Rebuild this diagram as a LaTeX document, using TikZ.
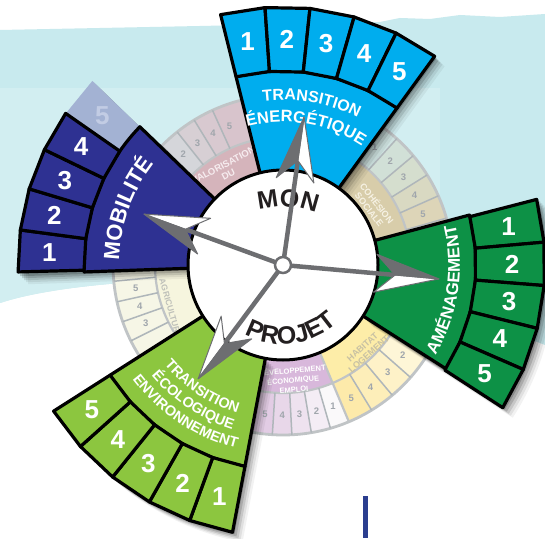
\documentclass[tikz,border=0pt]{standalone}
\usepackage{fontspec}
\setmainfont{Liberation Sans}
\usetikzlibrary{decorations.text}
\definecolor{bgdark}{RGB}{200,234,238}
\definecolor{bglight}{RGB}{210,238,241}
\definecolor{cyanE}{RGB}{0,173,238}
\definecolor{mobB}{RGB}{46,49,146}
\definecolor{mobF}{RGB}{163,178,211}
\definecolor{mobFn}{RGB}{194,204,228}
\definecolor{amenG}{RGB}{13,145,70}
\definecolor{ecoG}{RGB}{140,198,63}
\definecolor{arrowgray}{RGB}{109,110,113}
\definecolor{monc}{RGB}{35,31,32}
\definecolor{fring}{RGB}{192,196,198}
\definecolor{fsep}{RGB}{175,182,186}
\definecolor{fadenum}{RGB}{160,166,172}
\definecolor{barblue}{RGB}{43,62,143}
\definecolor{valL}{RGB}{213,180,187}
\definecolor{valCa}{RGB}{211,218,222}
\definecolor{valCb}{RGB}{213,214,218}
\definecolor{valCc}{RGB}{215,207,212}
\definecolor{valCd}{RGB}{216,201,208}
\definecolor{valCe}{RGB}{216,196,204}
\definecolor{cohL}{RGB}{216,205,170}
\definecolor{cohCa}{RGB}{206,226,224}
\definecolor{cohCb}{RGB}{209,224,215}
\definecolor{cohCc}{RGB}{213,222,206}
\definecolor{cohCd}{RGB}{217,217,194}
\definecolor{cohCe}{RGB}{221,213,184}
\definecolor{habL}{RGB}{253,237,168}
\definecolor{habCa}{RGB}{254,248,222}
\definecolor{habCb}{RGB}{254,246,215}
\definecolor{habCc}{RGB}{254,242,200}
\definecolor{habCd}{RGB}{253,238,185}
\definecolor{habCe}{RGB}{253,234,170}
\definecolor{devL}{RGB}{216,184,219}
\definecolor{devCa}{RGB}{250,249,250}
\definecolor{devCb}{RGB}{244,237,245}
\definecolor{devCc}{RGB}{238,226,239}
\definecolor{devCd}{RGB}{232,215,233}
\definecolor{devCe}{RGB}{226,204,228}
\definecolor{agrL}{RGB}{246,245,222}
\definecolor{agrC}{RGB}{246,246,230}
\definecolor{valT}{RGB}{246,236,239}
\definecolor{cohT}{RGB}{246,242,228}
\definecolor{habT}{RGB}{200,193,163}
\definecolor{agrT}{RGB}{190,192,185}

\newcommand\annsec[5]{\path[#5] (#1:#3) arc[start angle=#1,end angle=#2,radius=#3] -- (#2:#4) arc[start angle=#2,end angle=#1,radius=#4] -- cycle;}
\newcommand\cellquad[5]{\path[#5] (#1:#3) -- (#2:#3) -- (#2:#4) -- (#1:#4) -- cycle;}
\newcommand\blockshadow[4]{\foreach \sx/\so in {2/0.18,4/0.14,6/0.11,8/0.07,10/0.05}{\begin{scope}[xshift=\sx pt,yshift=-\sx pt]\annsec{#1}{#2}{#3}{#4}{fill=black,opacity=\so}\end{scope}}}
\newcommand\dart[2]{%
  \begin{scope}[rotate=#1]
    \draw[arrowgray,line width=4.5pt] (8,0) -- (#2-40,0);
    \path[fill=white,draw=arrowgray,line width=1pt,line join=round] (#2,0) -- (#2-64,-19) -- (#2-44,0) -- cycle;
    \path[fill=arrowgray,draw=arrowgray,line width=1pt,line join=round] (#2,0) -- (#2-64,19) -- (#2-44,0) -- cycle;
  \end{scope}}

\begin{document}
\begin{tikzpicture}[x=1pt,y=1pt,
  num/.style={text=white,font=\fontsize{26}{26}\selectfont\bfseries,inner sep=0pt},
  fnum/.style={text=fadenum,font=\fontsize{9.5}{10}\selectfont\bfseries,inner sep=0pt},
  flab/.style={font=\fontsize{9}{9.6}\selectfont\bfseries,align=center,inner sep=0pt},
  blk/.style={draw=black,line width=3.2pt,line join=round},
  fsepline/.style={draw=fsep,line width=1.5pt},
]
\useasboundingbox (0,0) rectangle (545,538);
\fill[white] (0,0) rectangle (545,538);
% background band
\path[fill=bgdark] (0,508) -- (100,510) -- (200,512) -- (380,516) -- (400,520) -- (430,519) -- (460,523) -- (500,521) -- (545,524) -- (545,193) .. controls (400,250) and (250,262) .. (150,257) .. controls (80,253) and (30,245) .. (0,235) -- cycle;
\begin{scope}
  \clip (0,508) -- (545,524) -- (545,193) .. controls (400,250) and (250,262) .. (150,257) .. controls (80,253) and (30,245) .. (0,235) -- cycle;
  \fill[bglight] (0,0) rectangle (440,450);
\end{scope}
% blue bar
\fill[barblue] (363,0) rectangle (368,42);

\begin{scope}[shift={(283,273)}]
% ---------- faded wheel ----------
\annsec{104}{152}{90}{128}{fill=valL}
\annsec{170}{232}{90}{128}{fill=agrL}
\annsec{-130}{-67.2}{90}{128}{fill=devL}
\annsec{-67.2}{-28}{90}{128}{fill=habL}
\annsec{8}{56}{90}{128}{fill=cohL}
% cells valorisation
\annsec{104}{114.5}{128}{170}{fill=valCe}
\annsec{114.5}{121.5}{128}{170}{fill=valCd}
\annsec{121.5}{128.5}{128}{170}{fill=valCc}
\annsec{128.5}{135.5}{128}{170}{fill=valCb}
\annsec{135.5}{152}{128}{170}{fill=valCa}
% cells cohesion
\annsec{48}{56}{128}{170}{fill=cohCa}
\annsec{40}{48}{128}{170}{fill=cohCb}
\annsec{32}{40}{128}{170}{fill=cohCc}
\annsec{24}{32}{128}{170}{fill=cohCd}
\annsec{8}{24}{128}{170}{fill=cohCe}
% cells habitat
\annsec{-32.8}{-24}{128}{170}{fill=habCa}
\annsec{-41.4}{-32.8}{128}{170}{fill=habCb}
\annsec{-50}{-41.4}{128}{170}{fill=habCc}
\annsec{-58.6}{-50}{128}{170}{fill=habCd}
\annsec{-67.2}{-58.6}{128}{170}{fill=habCe}
% cells developpement
\annsec{-73.8}{-67.2}{128}{170}{fill=devCa}
\annsec{-80.4}{-73.8}{128}{170}{fill=devCb}
\annsec{-87}{-80.4}{128}{170}{fill=devCc}
\annsec{-93.6}{-87}{128}{170}{fill=devCd}
\annsec{-130}{-93.6}{128}{170}{fill=devCe}
% cells agriculture
\annsec{170}{232}{128}{170}{fill=agrC}
% outlines
\draw[fring,line width=2.8pt] (0,0) circle[radius=170];
\draw[fring,line width=2.2pt] (0,0) circle[radius=128];
\foreach \a in {114.5,121.5,128.5,135.5,48,40,32,24,16,-32.8,-41.4,-50,-58.6,-73.8,-80.4,-87,-93.6,185.5,192.5,199.5,206.5,213.5}{\draw[fsepline] (\a:128) -- (\a:170);}
\draw[fring,line width=2.2pt] (-67.2:95) -- (-67.2:170);
% faded numbers
\node[fnum] (v5) at (111:149) {5};
\node[fnum] (v4) at (118:149) {4};
\node[fnum] (v3) at (125:149) {3};
\node[fnum] (v2) at (132:149) {2};
\node[fnum] (c1) at (52:149) {1};
\node[fnum] (c2) at (44:149) {2};
\node[fnum] (c3) at (36:149) {3};
\node[fnum] (c4) at (28:149) {4};
\node[fnum] (c5) at (20:149) {5};
\node[fnum] (h2) at (-37.1:150) {2};
\node[fnum] (h3) at (-45.7:150) {3};
\node[fnum] (h4) at (-54.3:150) {4};
\node[fnum] (h5) at (-62.9:150) {5};
\node[fnum] (d1) at (-70.5:150) {1};
\node[fnum] (d2) at (-77.1:150) {2};
\node[fnum] (d3) at (-83.7:150) {3};
\node[fnum] (d4) at (-90.3:150) {4};
\node[fnum] (d5) at (-96.9:150) {5};
\node[fnum] (g5) at (189:149) {5};
\node[fnum] (g4) at (196:149) {4};
\node[fnum] (g3) at (203:149) {3};
% faded labels
\node[flab,text=valT,rotate=28,font=\fontsize{9.5}{10.5}\selectfont\bfseries] (valab) at (121:111) {VALORISATION\\DU};
\node[flab,text=cohT,rotate=-52] (cohlab) at (33:108) {COHÉSION\\SOCIALE};
\node[flab,text=habT,rotate=42] (hablab) at (-46:119) {HABITAT\\LOGEMENT};
\node[flab,text=white,rotate=5,font=\fontsize{7.5}{9.6}\selectfont\bfseries] (devlab) at (-85:115) {DÉVELOPPEMENT\\ÉCONOMIQUE\\EMPLOI};
\node[flab,text=agrT,rotate=-74,anchor=west,font=\fontsize{8.5}{9}\selectfont\bfseries] (agrlab) at (-121,-14) {AGRICULTURE};

% ---------- Mobilite ----------
\blockshadow{136}{182}{95}{265}
\cellquad{145.4}{136}{199}{265}{fill=mobF}
\node[num,text=mobFn] (mo5) at (140.5:234) {5};
\annsec{136}{182}{85}{199}{fill=mobB,blk}
\foreach \k in {1,...,4}{
  \pgfmathsetmacro\aa{181.5-9.1*(\k-1)}
  \pgfmathsetmacro\ab{181.5-9.1*\k}
  \pgfmathsetmacro\am{181.5-9.1*\k+4.55}
  \cellquad{\aa}{\ab}{199}{265}{fill=mobB,blk}
  \node[num] (mo\k) at (\am:234) {\k};
}
\path[decorate,decoration={text along path,text={|\fontsize{22}{22}\selectfont\bfseries|MOBILITÉ},text align=center,text color=white}] (185:164) arc[start angle=185,end angle=135,radius=164];

% ---------- Transition energetique ----------
\blockshadow{54}{104}{95}{258}
\annsec{54}{104}{85}{194}{fill=cyanE,blk}
\foreach \k in {1,...,5}{
  \pgfmathsetmacro\aa{104-10*(\k-1)}
  \pgfmathsetmacro\ab{104-10*\k}
  \pgfmathsetmacro\am{104-10*\k+5}
  \cellquad{\aa}{\ab}{194}{258}{fill=cyanE,blk}
  \node[num] (te\k) at (\am:226) {\k};
}
\path[decorate,decoration={text along path,text={|\fontsize{16}{16}\selectfont\bfseries|TRANSITION},text align=center,text color=white}] (110:165) arc[start angle=110,end angle=50,radius=165];
\path[decorate,decoration={text along path,text={|\fontsize{16.5}{16.5}\selectfont\bfseries|ÉNERGÉTIQUE},text align=center,text color=white}] (111:143) arc[start angle=111,end angle=50,radius=143];

% ---------- Amenagement ----------
\blockshadow{-33}{15}{95}{262}
\annsec{-32.5}{15}{85}{193}{fill=amenG,blk}
\foreach \k in {1,...,5}{
  \pgfmathsetmacro\aa{14.5-9.5*(\k-1)}
  \pgfmathsetmacro\ab{14.5-9.5*\k}
  \pgfmathsetmacro\am{14.5-9.5*\k+4.75}
  \cellquad{\aa}{\ab}{193}{262}{fill=amenG,blk}
  \node[num] (am\k) at (\am:229) {\k};
}
\path[decorate,decoration={text along path,text={|\fontsize{17}{17}\selectfont\bfseries|AMÉNAGEMENT},text align=center,text color=white}] (-40:177) arc[start angle=-40,end angle=22.6,radius=177];

% ---------- Transition ecologique ----------
\blockshadow{212.5}{259.3}{95}{272}
\annsec{212.5}{259.3}{85}{205}{fill=ecoG,blk}
\foreach \k in {1,...,5}{
  \pgfmathsetmacro\aa{259.3-9.36*(\k-1)}
  \pgfmathsetmacro\ab{259.3-9.36*\k}
  \pgfmathsetmacro\am{259.3-9.36*\k+4.68}
  \cellquad{\aa}{\ab}{205}{272}{fill=ecoG,blk}
  \node[num] (ec\k) at (\am:240) {\k};
}
\path[decorate,decoration={text along path,text={|\fontsize{14.5}{14.5}\selectfont\bfseries|TRANSITION},text align=center,text color=white}] (200:155) arc[start angle=200,end angle=273,radius=155];
\path[decorate,decoration={text along path,text={|\fontsize{14.5}{14.5}\selectfont\bfseries|ÉCOLOGIQUE},text align=center,text color=white}] (200:172) arc[start angle=200,end angle=273,radius=172];
\path[decorate,decoration={text along path,text={|\fontsize{14.5}{14.5}\selectfont\bfseries|ENVIRONNEMENT},text align=center,text color=white}] (200:189) arc[start angle=200,end angle=273,radius=189];

% ---------- centre ----------
\draw[fill=white,line width=3pt] (0,0) circle[radius=95];
\begin{scope}[yshift=-32pt]
\path[decorate,decoration={text along path,text={|\fontsize{25}{25}\selectfont\bfseries|MON},text align=center,text color=monc}] (116:90) arc[start angle=116,end angle=58,radius=90];
\end{scope}
\path[decorate,decoration={text along path,text={|\fontsize{25}{25}\selectfont\bfseries|PROJET},text align=center,text color=monc}] (-128:79) arc[start angle=-128,end angle=-38,radius=79];
\dart{81.9}{149.5}
\dart{159.9}{148}
\dart{-5.1}{156.6}
\dart{233.3}{142}
\draw[arrowgray,line width=2.5pt,fill=white] (0,0) circle[radius=8];
\end{scope}
\end{tikzpicture}
\end{document}
